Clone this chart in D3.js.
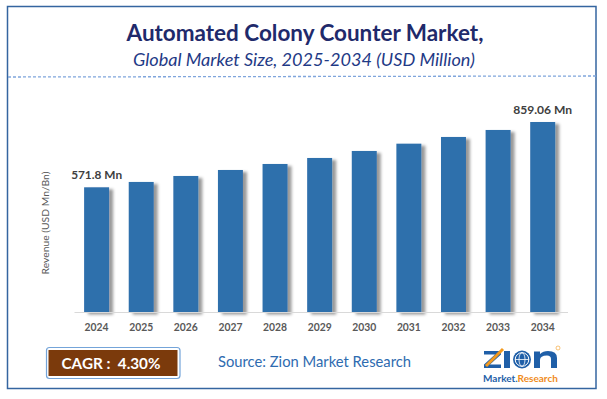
<!DOCTYPE html>
<html>
<head>
<meta charset="utf-8">
<script src="https://cdn.jsdelivr.net/npm/d3@7"></script>
<style>
  html, body { margin: 0; padding: 0; background: #fff; }
  svg { display: block; font-family: Lato, "Open Sans", sans-serif; }
</style>
</head>
<body>
<div id="chart"></div>
<script>
// Chart data
const years = ["2024", "2025", "2026", "2027", "2028", "2029", "2030", "2031", "2032", "2033", "2034"];
const revenue = [571.8, 595.3, 621.6, 648.0, 674.4, 700.8, 731.6, 763.7, 793.2, 824.0, 859.06];
const valueLabels = ["571.8 Mn", "", "", "", "", "", "", "", "", "", "859.06 Mn"];

const titleText = "Automated Colony Counter Market,";
const subtitleText = "Global Market Size, 2025-2034 (USD Million)";
const yAxisTitle = "Revenue (USD Mn/Bn)";
const cagrText = "CAGR :  4.30%";
const sourceText = "Source: Zion Market Research";

const width = 607, height = 399;

const svg = d3.select("#chart")
  .append("svg")
  .attr("width", width)
  .attr("height", height);

// Shadow filter for bars
const defs = svg.append("defs");
const shadow = defs.append("filter")
  .attr("id", "barShadow")
  .attr("x", "-20%").attr("y", "-10%")
  .attr("width", "160%").attr("height", "130%");
shadow.append("feDropShadow")
  .attr("dx", 4).attr("dy", 2)
  .attr("stdDeviation", 1.8)
  .attr("flood-color", "#000")
  .attr("flood-opacity", 0.4);

// fit text width by tweaking font size
function fitWidth(sel, target) {
  const w = sel.node().getComputedTextLength();
  const fs = parseFloat(sel.style("font-size"));
  sel.style("font-size", (fs * target / w) + "px");
}

// Outer frame
svg.append("rect")
  .attr("x", 7.5).attr("y", 6.5)
  .attr("width", 588.5).attr("height", 382)
  .style("fill", "none")
  .style("stroke", "#3465a0")
  .style("stroke-width", "1.5px");

// Titles
const title = svg.append("text")
  .attr("x", 305).attr("y", 41)
  .style("text-anchor", "middle")
  .style("font-size", "21px")
  .style("font-weight", "bold")
  .style("fill", "#1f2a6b")
  .text(titleText);
fitWidth(title, 357);

const subtitle = svg.append("text")
  .attr("x", 304).attr("y", 66)
  .style("text-anchor", "middle")
  .style("font-size", "17px")
  .style("font-style", "italic")
  .style("fill", "#1f3a86")
  .text(subtitleText);
fitWidth(subtitle, 342);

// Dashed divider
svg.append("line")
  .attr("x1", 8).attr("y1", 77)
  .attr("x2", 596).attr("y2", 76)
  .style("stroke", "#7fa5dc")
  .style("stroke-width", "1.3px")
  .style("stroke-dasharray", "3,2");

// Scales
const x = d3.scaleBand()
  .domain(years)
  .range([74.3, 565])
  .paddingInner(0.44)
  .paddingOuter(0.22);

const y = d3.scaleLinear()
  .domain([21, 859.06])
  .range([312.5, 122]);

// Bars
svg.append("g")
  .selectAll("rect")
  .data(revenue)
  .enter()
  .append("rect")
  .attr("x", (d, i) => x(years[i]))
  .attr("y", d => y(d))
  .attr("width", x.bandwidth())
  .attr("height", d => y.range()[0] - y(d))
  .attr("filter", "url(#barShadow)")
  .style("fill", "#2f6fac");

// Baseline
svg.append("line")
  .attr("x1", 74.5).attr("x2", 568)
  .attr("y1", 312.5).attr("y2", 312.5)
  .style("stroke", "#d9d9d9")
  .style("stroke-width", "1px");

// Year labels
svg.append("g")
  .selectAll("text")
  .data(years)
  .enter()
  .append("text")
  .attr("x", d => x(d) + x.bandwidth() / 2)
  .attr("y", 330.5)
  .style("text-anchor", "middle")
  .style("font-size", "11px")
  .style("font-weight", "bold")
  .style("fill", "#595959")
  .text(d => d)
  .each(function () { fitWidth(d3.select(this), 24); });

// Value labels on first and last bars
svg.append("g")
  .selectAll("text")
  .data(revenue)
  .enter()
  .append("text")
  .attr("x", (d, i) => x(years[i]) + x.bandwidth() / 2)
  .attr("y", d => y(d) - 8.5)
  .style("text-anchor", "middle")
  .style("font-size", "11.5px")
  .style("font-weight", "bold")
  .style("fill", "#404040")
  .text((d, i) => valueLabels[i])
  .filter((d, i) => valueLabels[i] !== "")
  .each(function (d, i) { fitWidth(d3.select(this), i === 0 ? 51 : 59); });

// Y axis title
const yTitle = svg.append("text")
  .attr("transform", "translate(49,223) rotate(-90)")
  .style("text-anchor", "middle")
  .style("font-size", "11px")
  .style("fill", "#595959")
  .text(yAxisTitle);
fitWidth(yTitle, 103);

// CAGR box
svg.append("rect")
  .attr("x", 46.5).attr("y", 347.5)
  .attr("width", 133.5).attr("height", 31)
  .attr("rx", 3)
  .style("fill", "#fff")
  .style("stroke", "#74a4d9")
  .style("stroke-width", "1.2px");
svg.append("rect")
  .attr("x", 48.5).attr("y", 350)
  .attr("width", 129).attr("height", 26)
  .style("fill", "#7b3a0c");
const cagr = svg.append("text")
  .attr("x", 111).attr("y", 368.5)
  .style("text-anchor", "middle")
  .style("font-size", "15px")
  .style("font-weight", "bold")
  .style("fill", "#fff")
  .style("white-space", "pre")
  .text(cagrText);
fitWidth(cagr, 99);

// Source
const source = svg.append("text")
  .attr("x", 218).attr("y", 367)
  .style("font-size", "14px")
  .style("fill", "#2e6bb0")
  .text(sourceText);
fitWidth(source, 193);

// Zion logo (approximation, drawn as shapes)
const logo = svg.append("g").style("fill", "#1f5fa8");
logo.append("path")
  .attr("d", "M484,351 H501 V354.5 L490,364.5 H501 V368 H484 V364.5 L495,354.5 H484 Z");
logo.append("rect")
  .attr("x", 504).attr("y", 351).attr("width", 6).attr("height", 17);
logo.append("line")
  .attr("x1", 486).attr("y1", 366)
  .attr("x2", 503).attr("y2", 349)
  .style("stroke", "#f39a1e")
  .style("stroke-width", "3px");
logo.append("circle")
  .attr("cx", 522).attr("cy", 359.5).attr("r", 9);
logo.append("circle")
  .attr("cx", 522).attr("cy", 359.5).attr("r", 6.8)
  .style("fill", "none")
  .style("stroke", "#fff")
  .style("stroke-width", "1px");
logo.append("line")
  .attr("x1", 515).attr("x2", 529)
  .attr("y1", 359.5).attr("y2", 359.5)
  .style("stroke", "#fff").style("stroke-width", "0.8px");
logo.append("ellipse")
  .attr("cx", 522).attr("cy", 359.5).attr("rx", 3).attr("ry", 6.8)
  .style("fill", "none")
  .style("stroke", "#fff").style("stroke-width", "0.8px");
logo.append("path")
  .attr("d", "M534,368 V351.5 H540 V354 Q543,351 548,351 Q557,351 557,358 V368 H551 V359 Q551,355.5 547,355.5 Q540,355.5 540,360 V368 Z");
logo.append("circle")
  .attr("cx", 558).attr("cy", 348).attr("r", 2)
  .style("fill", "none")
  .style("stroke", "#f39a1e")
  .style("stroke-width", "0.6px");
const mr = svg.append("text")
  .attr("x", 483).attr("y", 382)
  .style("font-size", "9px")
  .style("font-weight", "bold");
mr.append("tspan").style("fill", "#1f5fa8").text("Market.");
mr.append("tspan").style("fill", "#f08c1c").text("Research");
fitWidth(mr, 75);
</script>
</body>
</html>
